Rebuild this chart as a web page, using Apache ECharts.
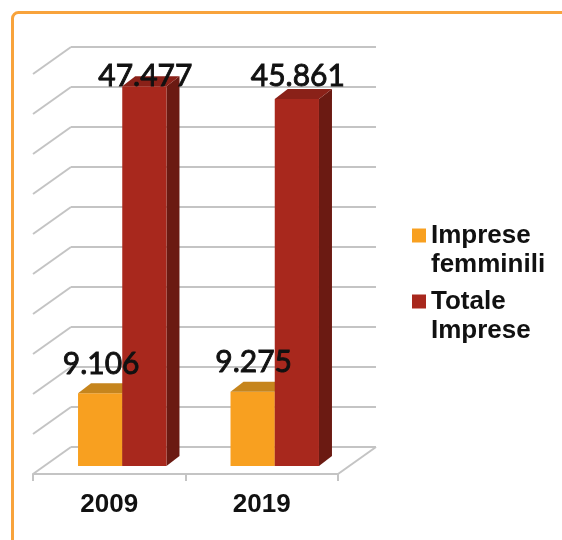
<!DOCTYPE html>
<html>
<head>
<meta charset="utf-8">
<script src="https://cdn.jsdelivr.net/npm/echarts@6/dist/echarts.min.js"></script>
<style>
  html, body { margin: 0; padding: 0; background: #ffffff; }
  #chart { width: 562px; height: 540px; }
</style>
</head>
<body>
<div id="chart"></div>
<script>
// Imprese femminili vs totale imprese, 2009 e 2019
const years = ['2009', '2019'];
const seriesNames = ['Imprese femminili', 'Totale Imprese'];
const impreseFemminili = [9106, 9275];
const totaleImprese = [47477, 45861];

// value axis
const valueMin = 0;
const valueMax = 50000;
const valueStep = 5000;

// 3D look: depth of the box (walls) and of the bars, in pixels
const WALL_DX = 38, WALL_DY = 27;
const BAR_FRONT_DX = 13, BAR_FRONT_DY = 8;
const BAR_DEPTH_DX = 13, BAR_DEPTH_DY = 10;
const BAR_WIDTH_RATIO = 0.29;

const GRID_COLOR = '#c4c4c4';
const palette = [
  { front: '#f8a020', top: '#c6851d', side: '#b06e12' },
  { front: '#a8281d', top: '#8a2118', side: '#6b1a12' }
];

function formatIt(v) {
  return String(v).replace(/\B(?=(\d{3})+(?!\d))/g, '.');
}

// horizontal lines of the left wall: one per axis tick
const wallTicks = [];
for (let v = valueMin; v <= valueMax; v += valueStep) wallTicks.push([0, v]);

function wallRenderer(params, api) {
  const cs = params.coordSys;
  const v = api.value(1);
  const y = api.coord([0, v])[1];
  const st = { stroke: GRID_COLOR, lineWidth: 2 };
  const children = [{
    type: 'line',
    shape: { x1: cs.x, y1: y, x2: cs.x + WALL_DX, y2: y - WALL_DY },
    style: st
  }];
  if (v === valueMin) {
    children.push({
      type: 'line',
      shape: { x1: cs.x + cs.width, y1: y, x2: cs.x + cs.width + WALL_DX, y2: y - WALL_DY },
      style: st
    });
  }
  return { type: 'group', children: children };
}

function barRenderer(slot) {
  return function (params, api) {
    const idx = api.value(0);
    const val = api.value(1);
    const base = api.coord([idx, 0]);
    const top = api.coord([idx, val]);
    const w = api.size([1, 0])[0] * BAR_WIDTH_RATIO;
    const x0 = base[0] + BAR_FRONT_DX + (slot === 0 ? -w : 0);
    const x1 = x0 + w;
    const yb = base[1] - BAR_FRONT_DY;
    const yt = top[1] - BAR_FRONT_DY;
    const yMax = api.coord([idx, valueMax])[1] - BAR_FRONT_DY;
    const c = palette[slot];
    const dx = BAR_DEPTH_DX, dy = BAR_DEPTH_DY;
    const labelY = Math.max(yt - 29, yMax + 10);
    return {
      type: 'group',
      children: [
        { type: 'polygon', shape: { points: [[x1, yb], [x1 + dx, yb - dy], [x1 + dx, yt - dy], [x1, yt]] }, style: { fill: c.side } },
        { type: 'rect', shape: { x: x0, y: yt, width: w, height: yb - yt }, style: { fill: c.front } },
        { type: 'polygon', shape: { points: [[x0, yt], [x0 + dx, yt - dy], [x1 + dx, yt - dy], [x1, yt]] }, style: { fill: c.top } },
        {
          type: 'text', z2: 100, x: (x0 + x1) / 2 + 1, y: labelY,
          style: {
            text: formatIt(val), font: '30px Lato', fill: '#111111',
            stroke: '#111111', lineWidth: 0.9,
            align: 'center', verticalAlign: 'middle'
          }
        }
      ]
    };
  };
}

// square marker sitting on the first line of a two-line legend entry
const legendIcon = 'path://M0,0h14v14h-14zM0,43';
const legendText = {
  fontFamily: 'Liberation Sans', fontSize: 26, fontWeight: 'bold',
  color: '#111111', lineHeight: 29
};

const chart = echarts.init(document.getElementById('chart'), null, { renderer: 'canvas' });
chart.setOption({
  animation: false,
  backgroundColor: '#ffffff',
  graphic: [{
    type: 'rect', silent: true, z: -10,
    shape: { x: 12.5, y: 12.5, width: 700, height: 700, r: 6 },
    style: { fill: 'none', stroke: '#f8a33c', lineWidth: 3 }
  }],
  legend: [
    {
      data: [seriesNames[0]], orient: 'vertical', left: 412, top: 221, padding: 0,
      icon: legendIcon, itemWidth: 14, itemHeight: 43,
      formatter: n => n.replace(' ', '\n'), textStyle: legendText
    },
    {
      data: [seriesNames[1]], orient: 'vertical', left: 412, top: 287, padding: 0,
      icon: legendIcon, itemWidth: 14, itemHeight: 43,
      formatter: n => n.replace(' ', '\n'), textStyle: legendText
    }
  ],
  grid: [
    // front edge of the floor; bars stand a little behind it
    { left: 33, top: 74, width: 305, height: 400 },
    // back wall
    { left: 33 + WALL_DX, top: 74 - WALL_DY, width: 305, height: 400 }
  ],
  xAxis: [
    {
      gridIndex: 0, type: 'category', data: years, boundaryGap: true,
      axisLine: { lineStyle: { color: GRID_COLOR, width: 2 } },
      axisTick: { show: true, length: 7, interval: 0, lineStyle: { color: GRID_COLOR, width: 2 } },
      axisLabel: { margin: 18, fontFamily: 'Liberation Sans', fontSize: 26, fontWeight: 'bold', color: '#111111' }
    },
    { gridIndex: 1, type: 'category', data: years, show: false }
  ],
  yAxis: [
    { gridIndex: 0, type: 'value', min: valueMin, max: valueMax, interval: valueStep, show: false },
    {
      gridIndex: 1, type: 'value', min: valueMin, max: valueMax, interval: valueStep,
      axisLine: { show: false }, axisTick: { show: false }, axisLabel: { show: false },
      splitLine: { show: true, lineStyle: { color: GRID_COLOR, width: 2 } }
    }
  ],
  series: [
    {
      type: 'custom', silent: true, z: 1, xAxisIndex: 0, yAxisIndex: 0,
      data: wallTicks, renderItem: wallRenderer
    },
    {
      name: seriesNames[0], type: 'custom', xAxisIndex: 0, yAxisIndex: 0,
      itemStyle: { color: palette[0].front },
      data: impreseFemminili.map((v, i) => [i, v]),
      renderItem: barRenderer(0)
    },
    {
      name: seriesNames[1], type: 'custom', xAxisIndex: 0, yAxisIndex: 0,
      itemStyle: { color: palette[1].front },
      data: totaleImprese.map((v, i) => [i, v]),
      renderItem: barRenderer(1)
    }
  ]
});
</script>
</body>
</html>
